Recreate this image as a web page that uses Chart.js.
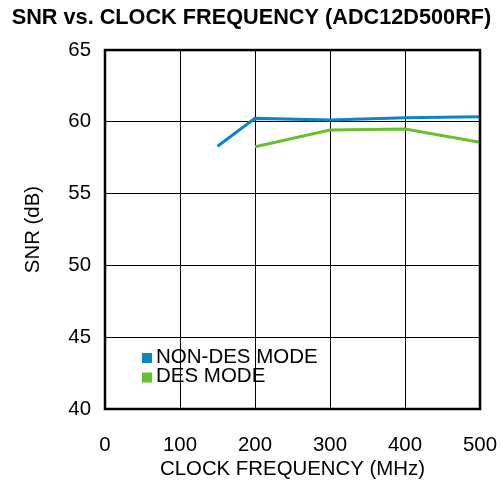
<!DOCTYPE html>
<html>
<head>
<meta charset="utf-8">
<script src="https://cdn.jsdelivr.net/npm/chart.js@4"></script>
<style>
html,body{margin:0;padding:0;background:#fff;}
#wrap{width:503px;height:485px;}
</style>
</head>
<body>
<div id="wrap"><canvas id="c" width="503" height="485"></canvas></div>
<script>
const chartTitle = 'SNR vs. CLOCK FREQUENCY (ADC12D500RF)';
const xTitle = 'CLOCK FREQUENCY (MHz)';
const yTitle = 'SNR (dB)';
const seriesNames = ['NON-DES MODE', 'DES MODE'];
const seriesColors = ['#0a86c8', '#66c02f'];
const nonDesFreq = [150, 200, 300, 400, 500];
const nonDesSnr = [58.3, 60.24, 60.12, 60.28, 60.35];
const desFreq = [200, 300, 400, 500];
const desSnr = [58.27, 59.43, 59.5, 58.57];
const xTicks = [0, 100, 200, 300, 400, 500];
const yTicks = [40, 45, 50, 55, 60, 65];

const FONT = 'Liberation Sans, Arial, Helvetica, sans-serif';

function pts(xs, ys) { return xs.map((x, i) => ({x: x, y: ys[i]})); }

const framePlugin = {
  id: 'frameAndLegend',
  afterDatasetsDraw(chart) {
    const {ctx, chartArea: a} = chart;
    ctx.save();
    ctx.strokeStyle = '#000';
    ctx.lineWidth = 2.5;
    ctx.strokeRect(a.left, a.top, a.right - a.left, a.bottom - a.top);
    // legend
    ctx.font = '20.5px ' + FONT;
    ctx.textBaseline = 'middle';
    ctx.textAlign = 'left';
    chart.data.datasets.forEach((ds, i) => {
      const y = 358 + i * 19.5;
      ctx.fillStyle = ds.borderColor;
      ctx.fillRect(142, y - 5, 10, 10);
      ctx.fillStyle = '#000';
      ctx.fillText(ds.label, 156, y - 1);
    });
    ctx.restore();
  }
};

new Chart(document.getElementById('c'), {
  type: 'line',
  data: {
    datasets: [
      {label: seriesNames[0], data: pts(nonDesFreq, nonDesSnr), borderColor: seriesColors[0], backgroundColor: seriesColors[0], borderWidth: 3, pointRadius: 0, tension: 0, fill: false},
      {label: seriesNames[1], data: pts(desFreq, desSnr), borderColor: seriesColors[1], backgroundColor: seriesColors[1], borderWidth: 3, pointRadius: 0, tension: 0, fill: false}
    ]
  },
  options: {
    responsive: false,
    animation: false,
    devicePixelRatio: 1,
    layout: {padding: 0},
    plugins: {
      legend: {display: false},
      tooltip: {enabled: false},
      title: {
        display: true,
        text: chartTitle,
        color: '#000',
        font: {family: FONT, size: 21.7, weight: 'bold', lineHeight: 1.2},
        padding: {top: 5, bottom: 19}
      }
    },
    scales: {
      x: {
        type: 'linear',
        min: 0, max: 500,
        afterBuildTicks(s) { s.ticks = xTicks.map(v => ({value: v})); },
        afterFit(s) { s.height = 76; s.paddingRight = 23; },
        grid: {color: '#000', lineWidth: 1, drawTicks: false},
        border: {display: false},
        ticks: {color: '#000', font: {family: FONT, size: 20.4}, padding: 24, maxRotation: 0},
        title: {display: true, text: xTitle, color: '#000', font: {family: FONT, size: 20.4, lineHeight: 1.2}, padding: {top: 0, bottom: 3}}
      },
      y: {
        type: 'linear',
        min: 40, max: 65,
        afterBuildTicks(s) { s.ticks = yTicks.map(v => ({value: v})); },
        afterFit(s) { s.width = 105; },
        grid: {color: '#000', lineWidth: 1, drawTicks: false},
        border: {display: false},
        ticks: {color: '#000', font: {family: FONT, size: 20.4}, padding: 14},
        title: {display: true, text: yTitle, color: '#000', font: {family: FONT, size: 20.4, lineHeight: 1.2}, padding: {top: 21, bottom: 0}}
      }
    }
  },
  plugins: [framePlugin]
});
</script>
</body>
</html>
